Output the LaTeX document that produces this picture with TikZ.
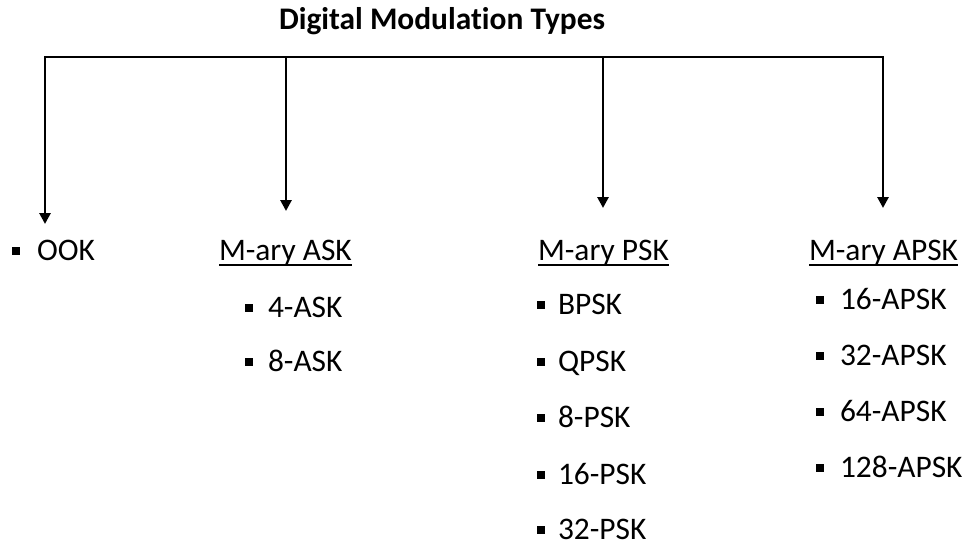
\documentclass[tikz,border=0pt]{standalone}
\usepackage{fontspec}
\setmainfont{Carlito}[Ligatures=NoCommon]
\usetikzlibrary{arrows.meta}
\begin{document}
\begin{tikzpicture}[x=1pt,y=-1pt,
  every node/.style={inner sep=0pt,outer sep=0pt},
  lbl/.style={anchor=base west,font=\fontsize{31.4}{34}\selectfont},
  ttl/.style={anchor=base,font=\fontsize{31.4}{34}\selectfont\bfseries},
  bul/.style={fill=black,minimum size=8pt,inner sep=0pt},
  link/.style={line width=2.8pt,-{Triangle[length=11pt,width=11pt]}},
  trunk/.style={line width=2.8pt,line cap=rect},
  uline/.style={line width=2pt}]
\useasboundingbox (0,0) rectangle (971,547);

% title
\node[ttl] (title) at (442,29) {Digital Modulation Types};

% branch points on the trunk line
\coordinate (jOOK)  at (45,57);
\coordinate (jASK)  at (286,57);
\coordinate (jPSK)  at (603,57);
\coordinate (jAPSK) at (883,57);
\coordinate (tOOK)  at (45,224);
\coordinate (tASK)  at (286,211);
\coordinate (tPSK)  at (603,208);
\coordinate (tAPSK) at (883,208);

\draw[trunk] (jOOK) -- (jAPSK);
\draw[link] (jOOK) -- (tOOK);
\draw[link] (jASK) -- (tASK);
\draw[link] (jPSK) -- (tPSK);
\draw[link] (jAPSK) -- (tAPSK);

% OOK
\node[bul] (bOOK) at (16,250.5) {};
\node[lbl] (ook) at (37,260) {OOK};

% group headings
\node[lbl] (ask)  at (219,260) {M-ary ASK};
\node[lbl] (psk)  at (538,260) {M-ary PSK};
\node[lbl] (apsk) at (809,260) {M-ary APSK};
\draw[uline] ([yshift=-5pt]ask.base west)  -- ([yshift=-5pt]ask.base east);
\draw[uline] ([yshift=-5pt]psk.base west)  -- ([yshift=-5pt]psk.base east);
\draw[uline] ([yshift=-5pt]apsk.base west) -- ([yshift=-5pt]apsk.base east);

% ASK members
\node[bul] (b1) at (249,307.5) {};
\node[lbl] (ask4) at (268,317) {4-ASK};
\node[bul] (b2) at (249,361.5) {};
\node[lbl] (ask8) at (268,371) {8-ASK};

% PSK members
\node[bul] (b3) at (541,304.5) {};
\node[lbl] (bpsk) at (558,314) {BPSK};
\node[bul] (b4) at (541,361.5) {};
\node[lbl] (qpsk) at (558,371) {QPSK};
\node[bul] (b5) at (541,417.5) {};
\node[lbl] (psk8) at (558,427) {8-PSK};
\node[bul] (b6) at (541,474.5) {};
\node[lbl] (psk16) at (558,484) {16-PSK};
\node[bul] (b7) at (541,529.5) {};
\node[lbl] (psk32) at (558,539) {32-PSK};

% APSK members
\node[bul] (b8) at (820,299.5) {};
\node[lbl] (apsk16) at (840,309) {16-APSK};
\node[bul] (b9) at (820,355.5) {};
\node[lbl] (apsk32) at (840,365) {32-APSK};
\node[bul] (b10) at (820,411.5) {};
\node[lbl] (apsk64) at (840,421) {64-APSK};
\node[bul] (b11) at (820,467.5) {};
\node[lbl] (apsk128) at (840,477) {128-APSK};
\end{tikzpicture}
\end{document}
